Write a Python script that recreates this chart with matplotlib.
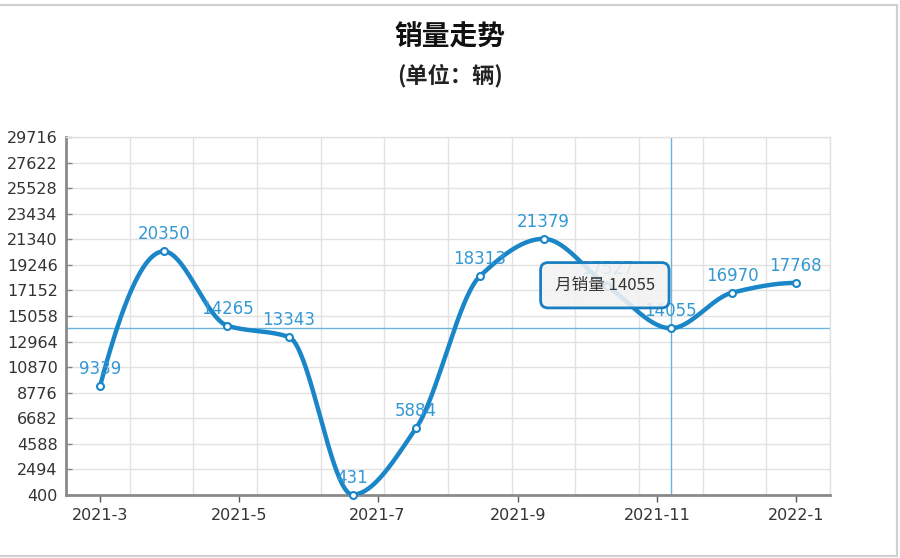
import matplotlib
matplotlib.use("Agg")
import matplotlib.pyplot as plt
import matplotlib.dates as mdates
import numpy as np
import pandas as pd
from matplotlib.patches import Rectangle

plt.rcParams['font.family'] = ['DejaVu Sans', 'Noto Sans CJK SC']

# data
dates = ["2021-03-01", "2021-03-29", "2021-04-26", "2021-05-23", "2021-06-20", "2021-07-18",
         "2021-08-15", "2021-09-12", "2021-10-10", "2021-11-07", "2021-12-04", "2022-01-01"]
sales = [9339, 20350, 14265, 13343, 431, 5884, 18313, 21379, 17527, 14055, 16970, 17768]
y_ticks = [400, 2494, 4588, 6682, 8776, 10870, 12964, 15058, 17152, 19246,
           21340, 23434, 25528, 27622, 29716]
x_tick_dates = ["2021-03-01", "2021-05-01", "2021-07-01", "2021-09-01", "2021-11-01", "2022-01-01"]
x_tick_labels = ["2021-3", "2021-5", "2021-7", "2021-9", "2021-11", "2022-1"]
hover_idx = 9
title = "销量走势"
subtitle = "(单位：辆)"
tip_label = "月销量"

LINE = '#1a86c8'
LABEL = '#3398d3'
CROSS = '#6ab4e0'


def pchip(x, y, xs):
    x = np.asarray(x, float); y = np.asarray(y, float)
    h = np.diff(x); d = np.diff(y) / h
    n = len(x); m = np.zeros(n)
    for k in range(1, n - 1):
        if d[k-1] * d[k] > 0:
            w1 = 2*h[k] + h[k-1]; w2 = h[k] + 2*h[k-1]
            m[k] = (w1 + w2) / (w1/d[k-1] + w2/d[k])
    def end(h0, h1, d0, d1):
        v = ((2*h0 + h1)*d0 - h0*d1) / (h0 + h1)
        if np.sign(v) != np.sign(d0): return 0.0
        if np.sign(d0) != np.sign(d1) and abs(v) > 3*abs(d0): return 3*d0
        return v
    m[0] = end(h[0], h[1], d[0], d[1])
    m[-1] = end(h[-1], h[-2], d[-1], d[-2])
    idx = np.clip(np.searchsorted(x, xs) - 1, 0, n - 2)
    t = (xs - x[idx]) / h[idx]
    h00 = 2*t**3 - 3*t**2 + 1; h10 = t**3 - 2*t**2 + t
    h01 = -2*t**3 + 3*t**2; h11 = t**3 - t**2
    return h00*y[idx] + h10*h[idx]*m[idx] + h01*y[idx+1] + h11*h[idx]*m[idx+1]


xd = mdates.date2num(pd.to_datetime(dates))
xs = np.linspace(xd[0], xd[-1], 800)
ys = pchip(xd, sales, xs)

fig = plt.figure(figsize=(9, 5.58), dpi=100)
fig.patches.append(Rectangle((-0.01, 1 - 556/558), 897/900 + 0.01, (556 - 4.5)/558,
                             transform=fig.transFigure, fill=False, edgecolor='#d0d0d0', lw=1.6))
ax = fig.add_axes([66/900, 1 - 495/558, 764/900, 358/558])

fig.text(0.5, 1 - 38/558, title, ha='center', va='center', fontsize=20, fontweight='bold',
         family=['Noto Sans CJK SC'], color='#111')
fig.text(0.5, 1 - 76/558, subtitle, ha='center', va='center', fontsize=16, fontweight='bold',
         family=['Noto Sans CJK SC'], color='#222')

ax.set_xlim(mdates.date2num(pd.Timestamp("2021-02-14")), mdates.date2num(pd.Timestamp("2022-01-16")))
ax.set_ylim(y_ticks[0], y_ticks[-1])

# grid
ax.set_yticks(y_ticks)
ax.set_yticklabels([str(v) for v in y_ticks])
grid_x = mdates.date2num(pd.date_range("2021-03-14", "2022-01-16", freq="28D"))
ax.set_xticks(grid_x, minor=True)
ax.set_xticks(mdates.date2num(pd.to_datetime(x_tick_dates)))
ax.set_xticklabels(x_tick_labels)
ax.grid(True, which='minor', axis='x', color='#e2e2e2', lw=1)
ax.grid(True, which='major', axis='y', color='#e2e2e2', lw=1)
ax.set_axisbelow(True)
ax.tick_params(axis='x', which='minor', length=0)
ax.tick_params(axis='x', which='major', direction='out', length=5, width=1, color='#555',
               labelsize=11.5, labelcolor='#333', pad=4)
ax.tick_params(axis='y', direction='in', length=4, width=1, color='#888',
               labelsize=11.5, labelcolor='#333', pad=6)
for s in ('left', 'bottom'):
    ax.spines[s].set_color('#8a8a8a'); ax.spines[s].set_linewidth(2)
for s in ('top', 'right'):
    ax.spines[s].set_color('#e2e2e2'); ax.spines[s].set_linewidth(1)

# crosshair
hx = xd[hover_idx]; hy = sales[hover_idx]
ax.axhline(hy, color=CROSS, lw=1, zorder=2)
ax.axvline(hx, color=CROSS, lw=1, zorder=2)

ax.plot(xs, ys, color=LINE, lw=3.2, zorder=3, solid_capstyle='round', clip_on=True)
ax.plot(xd, sales, 'o', ms=5, mfc='white', mec=LINE, mew=1.5, zorder=4, clip_on=False)

for x, v in zip(xd, sales):
    ax.annotate(str(v), (x, v), xytext=(0, 17), textcoords='offset pixels', ha='center',
                va='center', fontsize=12, color=LABEL, zorder=5)

ax.annotate(f"{tip_label} {hy}", (hx, hy), xytext=(-66, 43), textcoords='offset pixels',
            ha='center', va='center', fontsize=12, color='#333', family=['Noto Sans CJK SC'],
            zorder=10,
            bbox=dict(boxstyle='round,pad=0.85,rounding_size=0.45', fc=(0.95, 0.95, 0.95, 0.88),
                      ec='#1a7fc0', lw=2))

fig.savefig("out.png", dpi=100)
